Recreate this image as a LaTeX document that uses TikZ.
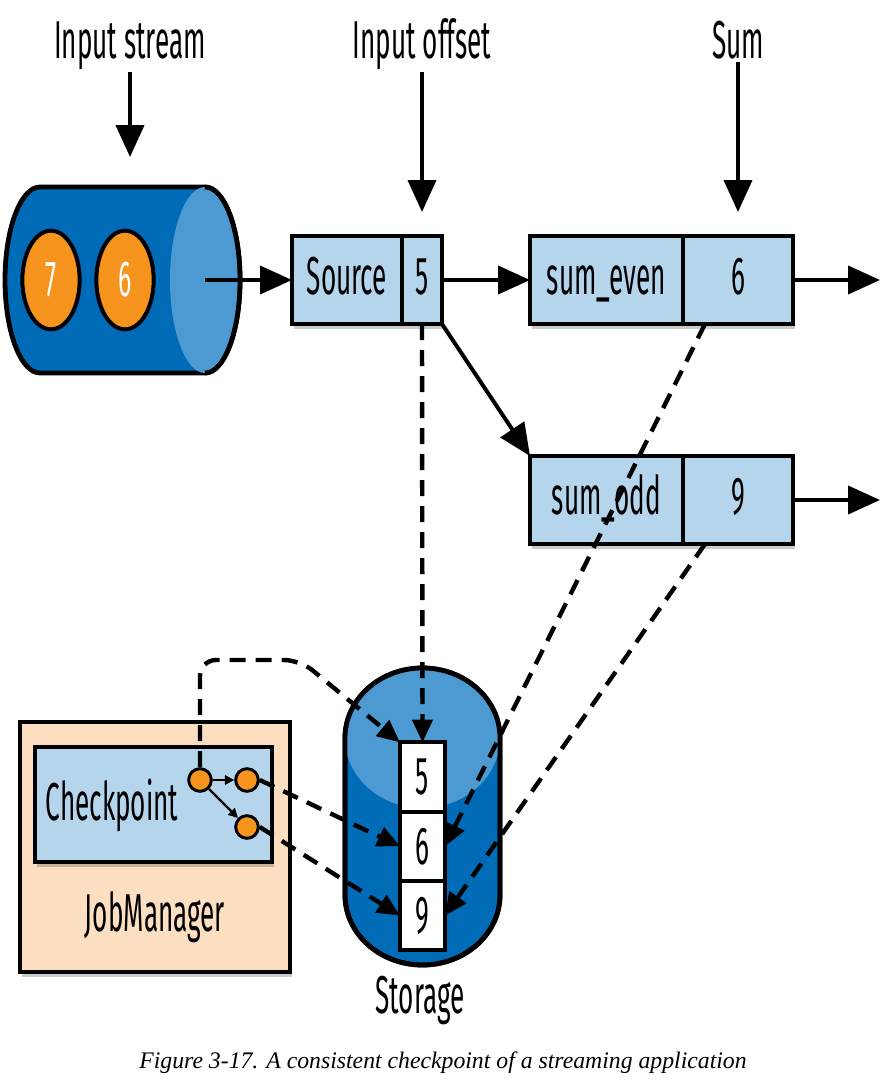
\documentclass[tikz,border=0pt]{standalone}
\usepackage{fontspec}
\setmainfont{Fira Sans}[FakeStretch=0.49]
\newfontfamily\capfont{Liberation Serif}
\usetikzlibrary{shapes.geometric, calc, arrows.meta, positioning, shadows}
\definecolor{streamblue}{RGB}{0,108,183}
\definecolor{faceblue}{RGB}{76,154,209}
\definecolor{cellblue}{RGB}{181,213,236}
\definecolor{eventorange}{RGB}{247,148,30}
\definecolor{jmpeach}{RGB}{252,222,192}
\newcommand{\diafont}{\fontsize{40}{44}\selectfont}
\tikzstyle{line} = [draw, line width=3pt, -{Triangle[length=24pt,width=21pt]}]

\begin{document}
\begin{tikzpicture}[x=0.75pt, y=0.75pt, every node/.style={font=\diafont}]
  % Define styles
  \tikzstyle{cell} = [rectangle, draw=black, line width=3.6pt, fill=cellblue, minimum height=66pt, inner sep=0pt, outer sep=0pt, text height=24pt, text depth=3pt, text centered, drop shadow={shadow xshift=1.5pt, shadow yshift=-4pt, fill=black!60, opacity=0.35}]
  \tikzstyle{box} = [rectangle, draw=black, line width=3.6pt, inner sep=0pt, drop shadow={shadow xshift=1.5pt, shadow yshift=-4pt, fill=black!60, opacity=0.35}]
  \tikzstyle{slot} = [rectangle, draw=black, line width=3pt, fill=white, minimum width=33.75pt, minimum height=52pt, inner sep=0pt, outer sep=0pt]
  \tikzstyle{event} = [ellipse, draw=black, line width=3pt, fill=eventorange, text=white, minimum width=43pt, minimum height=74pt, inner sep=0pt, font=\fontsize{38}{40}\selectfont]
  \tikzstyle{dot} = [circle, draw=black, line width=2.2pt, fill=eventorange, minimum size=17pt, inner sep=0pt]
  \tikzstyle{title} = [anchor=base, inner sep=2pt]
  \tikzstyle{dashline} = [draw, line width=3.3pt, dash pattern=on 12pt off 7.5pt, -{Triangle[length=17pt,width=15pt]}]
  \tikzstyle{smallline} = [draw, line width=1.8pt, -{Triangle[length=7pt,width=7pt]}]

  \useasboundingbox (0,0) rectangle (888,-1086);

  % Input stream cylinder
  \draw[line width=3.6pt, fill=streamblue] (40,-187) -- (205,-187) arc[start angle=90, end angle=-90, x radius=26.25pt, y radius=69.75pt] -- (40,-373) arc[start angle=270, end angle=90, x radius=26.25pt, y radius=69.75pt] -- cycle;
  \fill[faceblue] (205,-280) ellipse[x radius=26.25pt, y radius=69.75pt];
  \draw[line width=3.6pt] (205,-187) arc[start angle=90, end angle=-90, x radius=26.25pt, y radius=69.75pt];
  \coordinate (streamexit) at (205,-280);

  % Storage cylinder
  \draw[line width=3.6pt, fill=streamblue] (345,-738) arc[start angle=180, end angle=0, x radius=58.125pt, y radius=52.5pt] -- (500,-895) arc[start angle=0, end angle=-180, x radius=58.125pt, y radius=52.5pt] -- cycle;
  \fill[faceblue] (422.5,-738) ellipse[x radius=58.125pt, y radius=52.5pt];
  \draw[line width=3.6pt] (345,-738) arc[start angle=180, end angle=0, x radius=58.125pt, y radius=52.5pt] -- (500,-895) arc[start angle=0, end angle=-180, x radius=58.125pt, y radius=52.5pt] -- cycle;

  % Place nodes
  \node[title] (instreamlbl) at (130,-58) {Input stream};
  \node[title] (offsetlbl) at (422,-58) {Input offset};
  \node[title] (sumlbl) at (738,-58) {Sum};
  \coordinate (instreamtip) at (130,-157);
  \coordinate (offsettip) at (422,-212);
  \coordinate (sumtip) at (738,-212);

  \node[event] (ev7) at (51,-280) {7};
  \node[event] (ev6) at (125,-280) {6};

  \node[cell, minimum width=82.5pt, anchor=west] (srcname) at (292,-280) {Source};
  \node[cell, minimum width=30pt, right=0pt of srcname] (srcval) {5};
  \node[cell, minimum width=114.75pt, anchor=west] (evenname) at (530,-280) {sum\_even};
  \node[cell, minimum width=82.5pt, right=0pt of evenname] (evenval) {6};
  \node[cell, minimum width=114.75pt, anchor=west] (oddname) at (530,-500) {sum\_odd};
  \node[cell, minimum width=82.5pt, right=0pt of oddname] (oddval) {9};
  \coordinate (evenout) at (880,-280);
  \coordinate (oddout) at (880,-500);

  \node[box, fill=jmpeach, minimum width=202.5pt, minimum height=187.5pt] (jm) at (155,-847) {};
  \node (jmlbl) at (155,-917) {JobManager};
  \node[box, fill=cellblue, minimum width=177.75pt, minimum height=86.25pt] (ckbox) at (153.5,-804.5) {};
  \node (cklbl) at (112,-805) {Checkpoint};
  \node[dot] (cka) at (200,-780) {};
  \node[dot] (ckb) at (247,-780) {};
  \node[dot] (ckc) at (247,-827) {};
  \coordinate (ckturn) at (300,-660);

  \node[slot] (st5) at (422.5,-777) {5};
  \node[slot, below=0pt of st5] (st6) {6};
  \node[slot, below=0pt of st6] (st9) {9};
  \node (storelbl) at (420,-1000) {Storage};

  \node[font=\capfont\itshape\fontsize{17.8}{20}\selectfont] (caption) at (443,-1063) {Figure 3-17. A consistent checkpoint of a streaming application};

  % Draw edges
  \path [line] (instreamlbl.south) -- (instreamtip);
  \path [line] (offsetlbl.south) -- (offsettip);
  \path [line] (sumlbl.south) -- (sumtip);
  \path [line] (streamexit) -- (srcname.west);
  \path [line] (srcval.east) -- (evenname.west);
  \path [line] (srcval.south east) -- (oddname.north west);
  \path [line] (evenval.east) -- (evenout);
  \path [line] (oddval.east) -- (oddout);
  \path [smallline] (cka) -- (ckb);
  \path [smallline] (cka) -- (ckc);
  \path [dashline] (srcval.south) -- (st5.north);
  \path [dashline, rounded corners=12pt] (cka.north) |- (ckturn) -- (st5.north west);
  \path [dashline] (ckb.east) -- (st6.west);
  \path [dashline] (ckc.east) -- (st9.west);
  \path [dashline] ($(evenval.south west)!0.2!(evenval.south east)$) -- (st6.east);
  \path [dashline] ($(oddval.south west)!0.2!(oddval.south east)$) -- (st9.east);
\end{tikzpicture}
\end{document}
